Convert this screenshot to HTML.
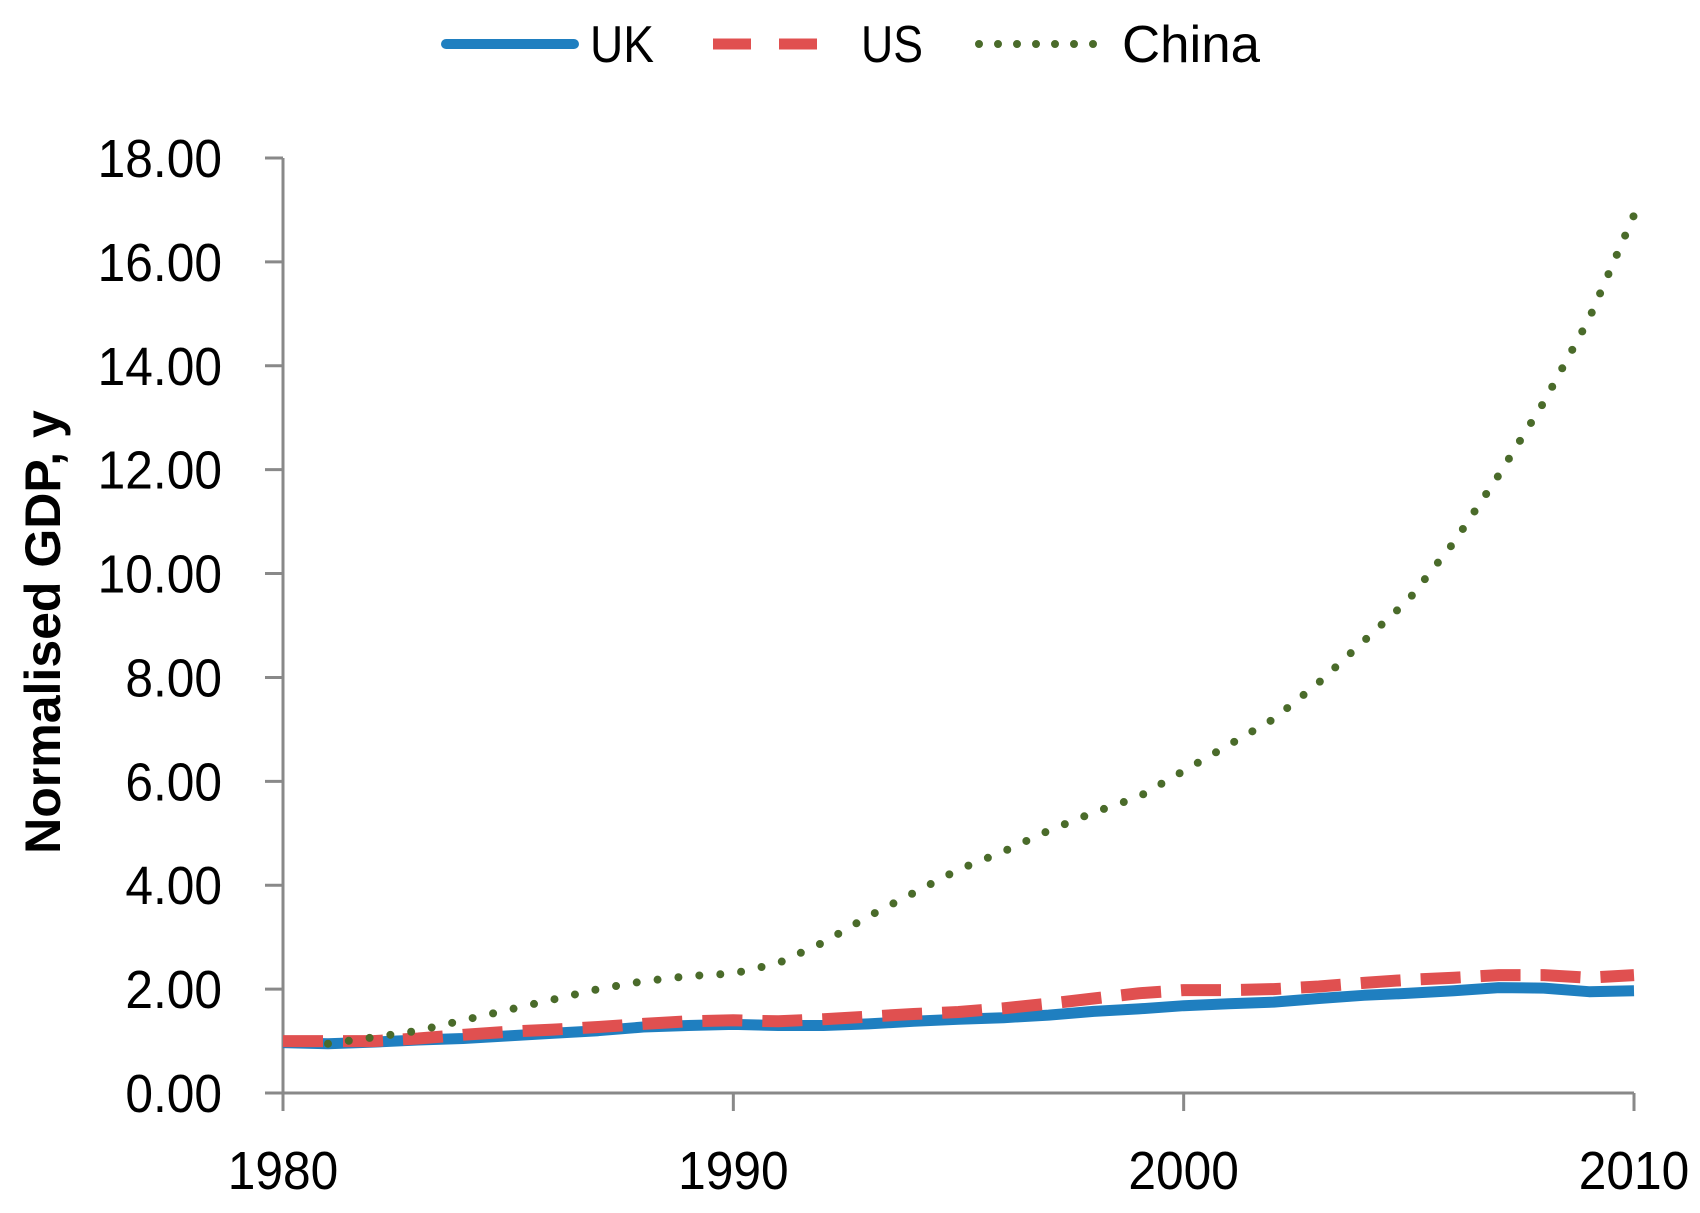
<!DOCTYPE html>
<html><head><meta charset="utf-8"><style>
html,body{margin:0;padding:0;background:#fff;}
svg{display:block;font-family:"Liberation Sans",sans-serif;}
</style></head><body>
<svg id="chart" width="1700" height="1213" viewBox="0 0 1700 1213" xmlns="http://www.w3.org/2000/svg">
<g id="legend">
 <g><line x1="446" y1="44" x2="574" y2="44" stroke="#1f7fc0" stroke-width="10" stroke-linecap="round"/><text x="590" y="62" font-size="52" fill="#000" textLength="64" lengthAdjust="spacingAndGlyphs">UK</text></g>
 <g><line x1="713" y1="44" x2="834" y2="44" stroke="#e05050" stroke-width="11" stroke-dasharray="38,28"/><text x="861" y="62" font-size="52" fill="#000" textLength="62" lengthAdjust="spacingAndGlyphs">US</text></g>
 <g><line x1="979" y1="44" x2="1108" y2="44" stroke="#4a6b2a" stroke-width="8" stroke-dasharray="0,19" stroke-linecap="round"/><text x="1122" y="62" font-size="52" fill="#000" textLength="138" lengthAdjust="spacingAndGlyphs">China</text></g>
</g>
<text transform="translate(60,632) rotate(-90)" text-anchor="middle" font-size="50" font-weight="bold" fill="#000">Normalised GDP, y</text>
<g id="axes"></g>
<g id="series"></g>
</svg>
<script>
const years = [1980,1981,1982,1983,1984,1985,1986,1987,1988,1989,1990,1991,1992,1993,1994,1995,1996,1997,1998,1999,2000,2001,2002,2003,2004,2005,2006,2007,2008,2009,2010];
const ukValues = [0.97,0.95,0.98,1.02,1.05,1.1,1.15,1.2,1.27,1.3,1.32,1.3,1.3,1.33,1.38,1.42,1.45,1.5,1.57,1.62,1.68,1.72,1.75,1.82,1.88,1.92,1.97,2.03,2.02,1.95,1.97];
const usValues = [1.0,1.0,1.0,1.05,1.12,1.18,1.22,1.27,1.33,1.38,1.4,1.38,1.42,1.47,1.52,1.56,1.63,1.72,1.82,1.92,1.98,1.98,2.0,2.05,2.12,2.18,2.22,2.27,2.27,2.22,2.27];
const chinaYears = [1981,1982,1983,1984,1985,1986,1987,1988,1989,1990,1991,1992,1993,1994,1995,1996,1997,1998,1999,2000,2001,2002,2003,2004,2005,2006,2007,2008,2009,2010];
const chinaValues = [0.95,1.07,1.2,1.4,1.6,1.8,2.0,2.15,2.25,2.3,2.5,2.9,3.4,3.85,4.3,4.65,5.05,5.4,5.7,6.2,6.7,7.2,7.9,8.7,9.5,10.6,11.9,13.3,14.9,16.9];
const yTicks = [0,2,4,6,8,10,12,14,16,18];
const yTickLabels = ["0.00","2.00","4.00","6.00","8.00","10.00","12.00","14.00","16.00","18.00"];
const xTicks = [1980,1990,2000,2010];
const xTickLabels = ["1980","1990","2000","2010"];

const X0=283,X1=1634,Y0=1093,Y1=158;
const xScale = v => X0 + (v-1980)/(2010-1980)*(X1-X0);
const yScale = v => Y0 - v/18*(Y0-Y1);
const NS="http://www.w3.org/2000/svg";
function mk(tag, attrs, parent){const e=document.createElementNS(NS,tag);for(const k in attrs)e.setAttribute(k,attrs[k]);parent.appendChild(e);return e;}
const axes=document.getElementById('axes');
const ya=mk('line',{x1:X0,y1:Y1,x2:X0,y2:Y0+18,stroke:'#898989','stroke-width':3},axes);


const xa=mk('line',{x1:X0-18,y1:Y0,x2:X1,y2:Y0,stroke:'#898989','stroke-width':3},axes);


yTicks.forEach((t,i)=>{
  const y=yScale(t);
  const tk=mk('line',{x1:X0-18,y1:y,x2:X0,y2:y,stroke:'#898989','stroke-width':3},axes);
  
  
  const tx=mk('text',{x:222,y:y+19,'text-anchor':'end','font-size':54,fill:'#000',transform:`translate(222,0) scale(0.92,1) translate(-222,0)`},axes);
  tx.textContent=yTickLabels[i];
  
  
});
xTicks.forEach((t,i)=>{
  const x=xScale(t);
  const tk=mk('line',{x1:x,y1:Y0,x2:x,y2:Y0+18,stroke:'#898989','stroke-width':3},axes);
  
  
  const tx=mk('text',{x:x,y:1189,'text-anchor':'middle','font-size':54,fill:'#000',transform:`translate(${x},0) scale(0.92,1) translate(${-x},0)`},axes);
  tx.textContent=xTickLabels[i];
  
  
});
const series=document.getElementById('series');
function path(xs,vs){return xs.map((x,i)=>(i?'L':'M')+xScale(x).toFixed(1)+','+yScale(vs[i]).toFixed(1)).join(' ');}
const uk=mk('path',{d:path(years,ukValues),fill:'none',stroke:'#1f7fc0','stroke-width':11,'stroke-linejoin':'round'},series);


const us=mk('path',{d:path(years,usValues),fill:'none',stroke:'#e05050','stroke-width':12,'stroke-dasharray':'40,20'},series);


const cn=mk('path',{d:path(chinaYears,chinaValues),fill:'none',stroke:'#4a6b2a','stroke-width':8,'stroke-dasharray':'0,21','stroke-linecap':'round'},series);


</script>
</body></html>
